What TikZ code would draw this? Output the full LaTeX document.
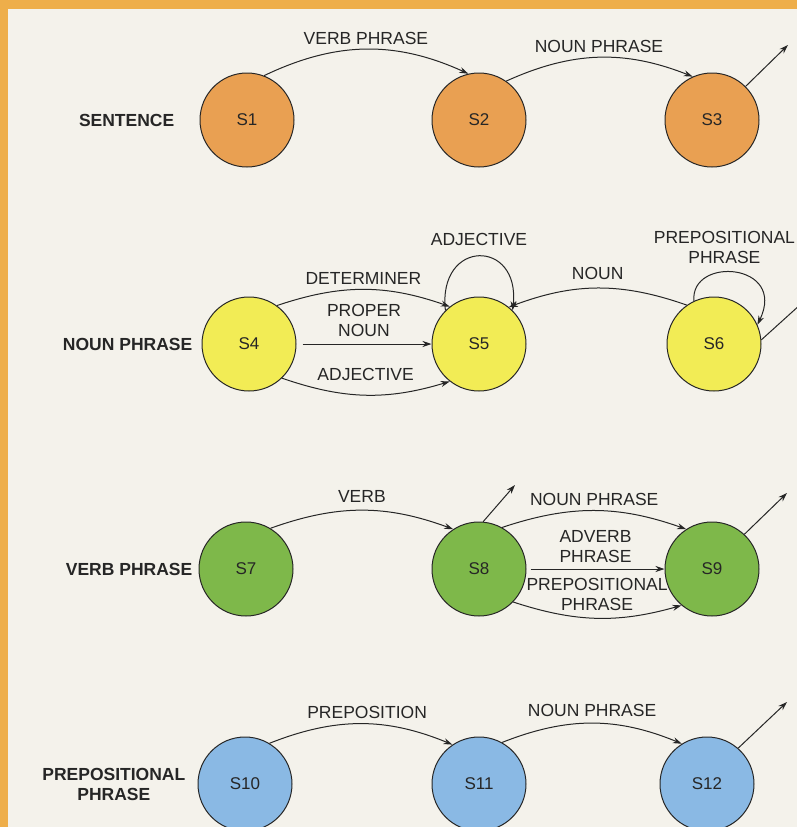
\documentclass[tikz,border=0pt]{standalone}
\usepackage{fontspec}
\setmainfont{Liberation Sans}
\usepackage{xcolor}
\usepackage{tikz}
\usetikzlibrary{arrows.meta,positioning}
\definecolor{paper}{HTML}{F4F2EB}
\definecolor{frame}{HTML}{EEAE4A}
\definecolor{ink}{HTML}{262626}
\definecolor{sorange}{HTML}{E9A052}
\definecolor{syellow}{HTML}{F2EC55}
\definecolor{sgreen}{HTML}{7EB84A}
\definecolor{sblue}{HTML}{8AB9E4}

\begin{document}
\begin{tikzpicture}[
    x=1pt, y=1pt,
    state/.style={circle, draw=ink, line width=1pt, minimum size=94pt,
                  inner sep=0pt, text=ink, font=\fontsize{17}{20}\selectfont},
    lbl/.style={text=ink, inner sep=2pt, align=center,
                font=\fontsize{17.5}{20}\selectfont},
    rowname/.style={text=ink, inner sep=2pt, align=center,
                    font=\fontsize{17.5}{20}\selectfont\bfseries},
    link/.style={draw=ink, line width=1pt},
    >={Stealth[length=9pt,width=6pt]},
]
    % Page
    \useasboundingbox (0,0) rectangle (797,-827);
    \fill[paper] (0,0) rectangle (797,-827);
    \fill[frame] (0,0) rectangle (797,-9);
    \fill[frame] (0,0) rectangle (8,-827);
    \clip (8,-9) rectangle (797,-827);

    % Sentence
    \node[state, fill=sorange] (S1) at (247,-120) {S1};
    \node[state, fill=sorange, right=137pt of S1] (S2) {S2};
    \node[state, fill=sorange, right=138pt of S2] (S3) {S3};
    \node[rowname, left=23pt of S1] (rS) {SENTENCE};

    % Noun phrase
    \node[state, fill=syellow] (S4) at (249,-344) {S4};
    \node[state, fill=syellow, right=135pt of S4] (S5) {S5};
    \node[state, fill=syellow, right=140pt of S5] (S6) {S6};
    \node[rowname, left=7pt of S4] (rNP) {NOUN PHRASE};

    % Verb phrase
    \node[state, fill=sgreen] (S7) at (246,-569) {S7};
    \node[state, fill=sgreen, right=138pt of S7] (S8) {S8};
    \node[state, fill=sgreen, right=138pt of S8] (S9) {S9};
    \node[rowname, left=4pt of S7] (rVP) {VERB PHRASE};

    % Prepositional phrase
    \node[state, fill=sblue] (S10) at (245,-784) {S10};
    \node[state, fill=sblue, right=139pt of S10] (S11) {S11};
    \node[state, fill=sblue, right=133pt of S11] (S12) {S12};
    \node[rowname, left=10pt of S10] (rPP) {PREPOSITIONAL\\PHRASE};

    % Exits
    \coordinate (S3out) at (788,-45);
    \coordinate (S6out) at (822,-285);
    \coordinate (S8out) at (515,-485);
    \coordinate (S9out) at (787,-493);
    \coordinate (S12out) at (787,-702);

    % Arrows
    \draw[->, link] (S1.69) to[bend left=25] node[lbl, above=2.5pt] (tVP) {VERB PHRASE} (S2.103);
    \draw[->, link] (S2.55) to[bend left=23] node[lbl, above=2.5pt] (tNP1) {NOUN PHRASE} (S3.114);
    \draw[->, link] (S3.45) -- (S3out);

    \draw[->, link] (S4.54) to[bend left=19] node[lbl, above=2.5pt] (tDet) {DETERMINER} (S5.128);
    \draw[->, link, shorten <=6pt] (S4.east) -- node[lbl, above=5pt] (tPN) {PROPER\\NOUN} (S5.west);
    \draw[->, link] (S4.-46) to[bend right=18] node[lbl, above=12pt] (tAdj) {ADJECTIVE} (S5.232);
    \draw[->, link] (S5.135) .. controls +(-8,72) and +(8,72) .. node[lbl, above=8pt] (tAdjL) {ADJECTIVE} (S5.45);
    \draw[->, link] (S6.125) to[bend right=20] node[lbl, above=6pt] (tN) {NOUN} (S5.51);
    \draw[->, link] (S6.115) .. controls +(-4,45) and +(30,62) .. node[lbl, above=7pt, xshift=-11pt] (tPPL) {PREPOSITIONAL\\PHRASE} (S6.24);
    \draw[->, link] (S6.5) -- (S6out);

    \draw[->, link] (S7.59) to[bend left=20] node[lbl, above=5pt] (tV) {VERB} (S8.123);
    \draw[->, link] (S8.85) -- (S8out);
    \draw[->, link] (S8.61) to[bend left=19] node[lbl, above=3pt] (tNP2) {NOUN PHRASE} (S9.123);
    \draw[->, link, shorten <=4pt] (S8.east) -- node[lbl, above=4pt] (tAdv) {ADVERB\\PHRASE} (S9.west);
    \draw[->, link] (S8.-44) to[bend right=17] node[lbl, above=5pt] (tPP) {PREPOSITIONAL\\PHRASE} (S9.230);
    \draw[->, link] (S9.47) -- (S9out);

    \draw[->, link] (S10.59) to[bend left=22] node[lbl, above=3pt, xshift=6pt] (tPrep) {PREPOSITION} (S11.124);
    \draw[->, link] (S11.61) to[bend left=22] node[lbl, above=4pt] (tNP3) {NOUN PHRASE} (S12.122);
    \draw[->, link] (S12.49) -- (S12out);
\end{tikzpicture}
\end{document}
